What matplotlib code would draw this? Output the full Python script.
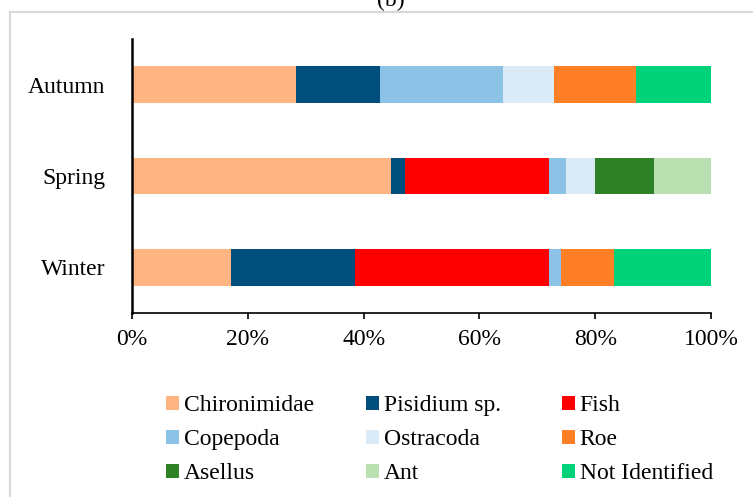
import matplotlib
matplotlib.use("Agg")
import matplotlib.pyplot as plt
from matplotlib.patches import Rectangle, Patch
import numpy as np

plt.rcParams['font.family'] = ['Liberation Serif', 'DejaVu Serif']

seasons = ["Winter", "Spring", "Autumn"]
taxa = ["Chironimidae", "Pisidium sp.", "Fish", "Copepoda", "Ostracoda",
        "Roe", "Asellus", "Ant", "Not Identified"]
colors = ["#FFB482", "#004E7C", "#FF0000", "#8CC2E6", "#DAEAF6",
          "#FF7F27", "#2E8127", "#BADFB0", "#00D27A"]

# percent of diet, per season (Winter, Spring, Autumn)
chironimidae = [17.1, 44.8, 28.4]
pisidium = [21.4, 2.3, 14.4]
fish = [33.6, 25.0, 0.0]
copepoda = [2.0, 2.8, 21.3]
ostracoda = [0.0, 5.0, 8.7]
roe = [9.1, 0.0, 14.3]
asellus = [0.0, 10.2, 0.0]
ant = [0.0, 9.9, 0.0]
not_identified = [16.8, 0.0, 12.9]

series = [chironimidae, pisidium, fish, copepoda, ostracoda,
          roe, asellus, ant, not_identified]

fig = plt.figure(figsize=(7.53, 4.97), dpi=100)
ax = fig.add_axes([132/753, 1-313/497, (711-132)/753, (313-39)/497])

y = np.arange(len(seasons))
total = np.array(series).sum(axis=0)
left = np.zeros(len(seasons))
for vals, name, c in zip(series, taxa, colors):
    v = np.array(vals) / total * 100
    ax.barh(y, v, left=left, height=0.4, color=c, label=name)
    left += v

ax.set_xlim(0, 100)
ax.set_ylim(-0.5, 2.5)
ax.set_yticks(y)
ax.set_yticklabels(seasons, fontsize=17)
ax.set_xticks(np.arange(0, 101, 20))
ax.set_xticklabels([f"{t}%" for t in range(0, 101, 20)], fontsize=17)
ax.tick_params(axis='y', length=0, pad=19)
ax.tick_params(axis='x', length=4.5, width=1.2, pad=7)
for s in ['top', 'right']:
    ax.spines[s].set_visible(False)
ax.spines['left'].set_linewidth(1.8)
ax.spines['bottom'].set_linewidth(1.2)

# legend in three columns, filled row by row
handles = [Patch(facecolor=c, edgecolor='none') for c in colors]
col_x = [166/753, 366/753, 562/753]
for j in range(3):
    idx = [j, j + 3, j + 6]
    fig.legend([handles[i] for i in idx], [taxa[i] for i in idx],
               loc='upper left', bbox_to_anchor=(col_x[j], 1-395/497),
               frameon=False, fontsize=17, borderpad=0, borderaxespad=0,
               handlelength=0.55, handleheight=0.55, handletextpad=0.2,
               labelspacing=0.55)

# outer chart border and cut title
fig.patches.append(Rectangle((10/753, -0.1), 1.2, 1.1 - 12/497,
                             transform=fig.transFigure, fill=False,
                             edgecolor='#d9d9d9', lw=1.5))
fig.text(391/753, 1-6/497, "(b)", ha='center', va='baseline', fontsize=17)

fig.savefig("out.png", dpi=100)
